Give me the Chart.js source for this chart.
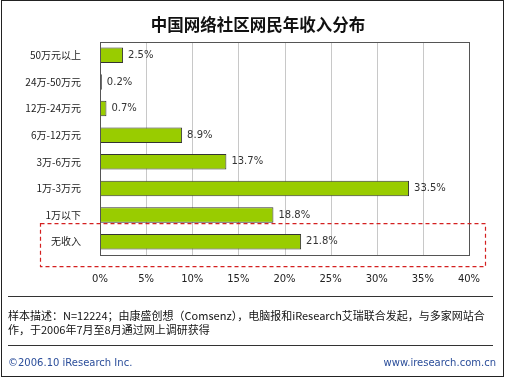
<!DOCTYPE html>
<html><head><meta charset="utf-8">
<script src="https://cdn.jsdelivr.net/npm/chart.js@4.4.0/dist/chart.umd.min.js"></script>
<style>html,body{margin:0;padding:0;background:#fff}#wrap{width:505px;height:377px;position:relative}</style>
</head><body><div id="wrap"><canvas id="c" width="505" height="377"></canvas></div>
<script>
const categories = ["50万元以上","24万-50万元","12万-24万元","6万-12万元","3万-6万元","1万-3万元","1万以下","无收入"];
const values = [2.5, 0.2, 0.7, 8.9, 13.7, 33.5, 18.8, 21.8];
const valueLabels = ["2.5%","0.2%","0.7%","8.9%","13.7%","33.5%","18.8%","21.8%"];
const tickValues = [0,5,10,15,20,25,30,35,40];
const titleText = "中国网络社区网民年收入分布";
const noteLine1 = "样本描述：N=12224；由康盛创想（Comsenz），电脑报和iResearch艾瑞联合发起，与多家网站合";
const noteLine2 = "作，于2006年7月至8月通过网上调研获得";
const copyText = "©2006.10 iResearch Inc.";
const urlText = "www.iresearch.com.cn";
const highlightIndex = 7;

const FONT = '"Noto Sans CJK SC", "DejaVu Sans", sans-serif';

const decor = {
  id: 'decor',
  beforeDatasetsDraw(chart) {
    const ctx = chart.ctx, a = chart.chartArea;
    ctx.save();
    ctx.strokeStyle = '#c8c8c8'; ctx.lineWidth = 1;
    const xs = chart.scales.x;
    tickValues.forEach(v => {
      const x = Math.round(xs.getPixelForValue(v)) + 0.5;
      ctx.beginPath(); ctx.moveTo(x, a.top); ctx.lineTo(x, a.bottom); ctx.stroke();
    });
    ctx.restore();
  },
  afterDraw(chart) {
    const ctx = chart.ctx, a = chart.chartArea;
    const xs = chart.scales.x, ys = chart.scales.y;
    ctx.save();
    ctx.strokeStyle = '#555'; ctx.lineWidth = 1;
    ctx.strokeRect(Math.round(a.left)+0.5, Math.round(a.top)+0.5, Math.round(a.right-a.left), Math.round(a.bottom-a.top));
    ctx.fillStyle = '#333'; ctx.font = '10px "DejaVu Sans", sans-serif';
    ctx.textBaseline = 'middle'; ctx.textAlign = 'left';
    const meta = chart.getDatasetMeta(0);
    meta.data.forEach((bar, i) => {
      ctx.fillText(valueLabels[i], bar.x + 5, bar.y);
    });
    const yc = ys.getPixelForValue(highlightIndex);
    ctx.strokeStyle = '#d42020'; ctx.lineWidth = 1.2; ctx.setLineDash([4,3]);
    ctx.strokeRect(40.5, yc - 18, 445, 43);
    ctx.setLineDash([]);
    ctx.fillStyle = '#111'; ctx.font = 'bold 16.5px ' + FONT;
    ctx.textAlign = 'center'; ctx.textBaseline = 'middle';
    ctx.fillText(titleText, 258, 25);
    ctx.strokeStyle = '#222'; ctx.lineWidth = 1;
    ctx.strokeRect(1.5, 0.5, 502, 376);
    ctx.strokeStyle = '#333';
    ctx.beginPath(); ctx.moveTo(8, 296.5); ctx.lineTo(493, 296.5); ctx.stroke();
    ctx.beginPath(); ctx.moveTo(8, 345.5); ctx.lineTo(493, 345.5); ctx.stroke();
    ctx.fillStyle = '#111'; ctx.font = '11px ' + FONT; ctx.textAlign = 'left';
    ctx.fillText(noteLine1, 8, 316);
    ctx.fillText(noteLine2, 8, 330);
    ctx.fillStyle = '#2a4d9a'; ctx.font = '10px "DejaVu Sans", sans-serif';
    ctx.fillText(copyText, 8, 363);
    ctx.textAlign = 'right';
    ctx.fillText(urlText, 496, 363);
    ctx.restore();
  }
};

new Chart(document.getElementById('c'), {
  type: 'bar',
  data: { labels: categories, datasets: [{ data: values, backgroundColor: '#99cc00', borderColor: '#333', borderWidth: 1, barPercentage: 0.58, categoryPercentage: 1.0 }] },
  options: {
    indexAxis: 'y', responsive: false, animation: false,
    layout: { padding: { left: 0, right: 36, top: 42, bottom: 92 } },
    plugins: { legend: { display: false }, tooltip: { enabled: false }, title: { display: false } },
    scales: {
      x: { min: 0, max: 40, border: { display: false }, grid: { display: false },
           afterBuildTicks(s) { s.ticks = tickValues.map(v => ({ value: v })); },
           afterFit(s) { s.height = 30; },
           ticks: { color: '#222', font: { size: 10, family: '"DejaVu Sans", sans-serif' }, padding: 10, maxRotation: 0, callback: v => v + '%' } },
      y: { border: { display: false }, grid: { display: false },
           afterFit(s) { s.width = 100; },
           ticks: { color: '#222', font: { size: 10, family: FONT }, padding: 11 } }
    }
  },
  plugins: [decor]
});
</script></body></html>
